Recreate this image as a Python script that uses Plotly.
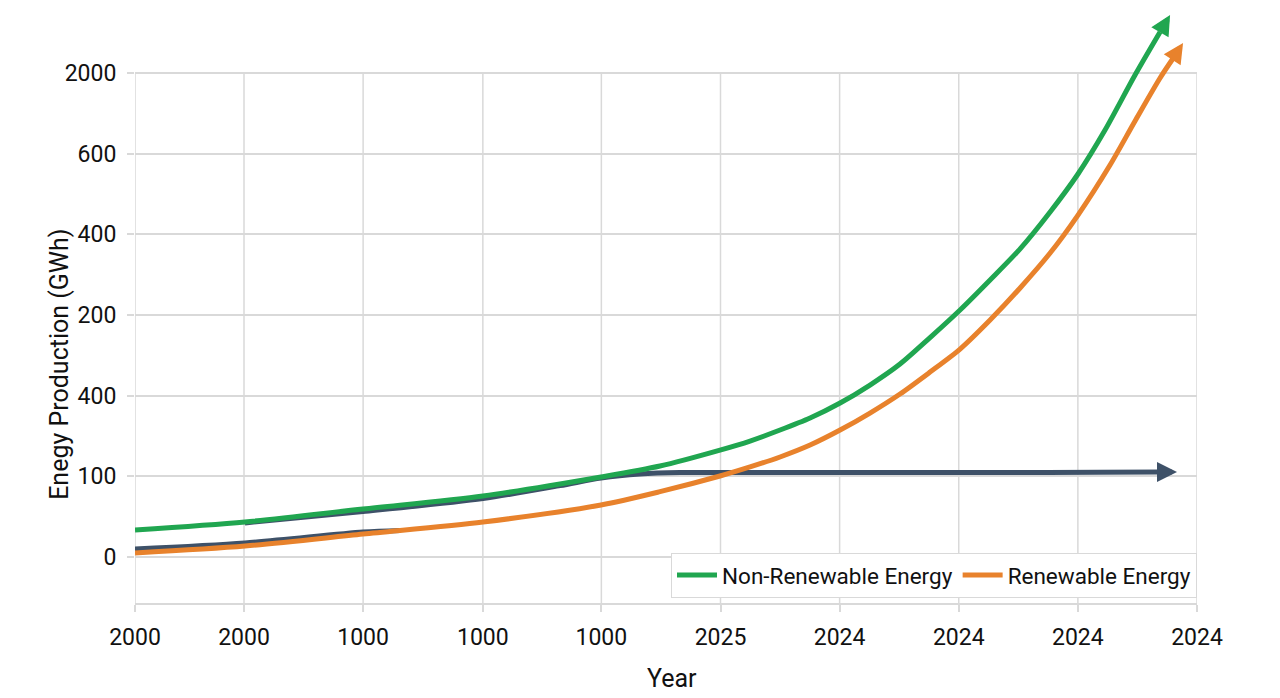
import plotly.graph_objects as go

# ---- data ----
x_tick_pos = [0, 0.915, 1.915, 2.92, 3.915, 4.915, 5.915, 6.915, 7.915, 8.915]
x_tick_text = ["2000", "2000", "1000", "1000", "1000", "2025", "2024", "2024", "2024", "2024"]
y_tick_pos = [0, 100, 200, 300, 400, 500, 600]
y_tick_text = ["0", "100", "400", "200", "400", "600", "2000"]

# last point of each series is the arrow tip
nonren_x = [0, 0.923, 1.914, 2.921, 3.912, 4.407, 4.911, 5.163, 5.415, 5.667, 5.919, 6.170,
            6.422, 6.674, 6.926, 7.178, 7.430, 7.682, 7.916, 8.143, 8.395, 8.605, 8.689]
nonren_y = [33.5, 43.4, 59.5, 75.6, 99.2, 112.8, 132.6, 143.8, 157.4, 172.3, 190.9, 213.2,
            239.2, 272.0, 306.2, 343.4, 382.0, 427.7, 474.8, 529.3, 597.5, 650.8, 671.9]

ren_x = [0, 0.923, 1.914, 2.921, 3.912, 4.407, 4.911, 5.163, 5.415, 5.667, 5.919, 6.170,
         6.422, 6.674, 6.926, 7.178, 7.430, 7.682, 7.916, 8.185, 8.395, 8.605, 8.722, 8.798]
ren_y = [5.0, 13.6, 28.5, 43.4, 64.5, 81.0, 100.4, 111.6, 124.0, 138.8, 157.4, 178.5,
         202.1, 229.3, 257.8, 293.8, 333.5, 376.8, 423.9, 485.9, 540.5, 593.8, 619.8, 637.2]

other_x = [0, 0.923, 1.914, 2.225, None, 0.923, 1.914, 2.921, 3.568, 3.912, 4.239, 4.575,
           5.583, 6.422, 7.262, 8.101, 8.630, 8.747]
other_y = [9.9, 17.4, 31.0, 33.0, None, 42.3, 56.3, 72.5, 88.5, 97.9, 102.9, 104.7,
           104.7, 104.7, 104.7, 105.2, 105.4, 105.4]

GREEN = "#20a650"
ORANGE = "#e8822c"
DARK = "#3e5168"
GRID = "#d9d9d9"
FONT = "Roboto"

fig = go.Figure()
arrows = []


def add_series(xs, ys, color, name, show):
    fig.add_trace(go.Scatter(
        x=xs[:-1], y=ys[:-1], mode="lines", name=name, showlegend=show,
        line=dict(color=color, width=5, shape="spline", smoothing=0.8),
        hoverinfo="skip"))
    arrows.append(dict(
        x=xs[-1], y=ys[-1], ax=xs[-2], ay=ys[-2], xref="x", yref="y", axref="x", ayref="y",
        text="", showarrow=True, arrowhead=2, arrowsize=0.8, arrowwidth=5, arrowcolor=color,
        standoff=0))


add_series(other_x, other_y, DARK, "Other", False)
add_series(ren_x, ren_y, ORANGE, "Renewable Energy", True)
add_series(nonren_x, nonren_y, GREEN, "Non-Renewable Energy", True)

# vertical grid lines stop at the top gridline
for xv in x_tick_pos:
    fig.add_shape(type="line", xref="x", yref="y", x0=xv, x1=xv, y0=-57, y1=y_tick_pos[-1],
                  line=dict(color=GRID, width=1.5), layer="below")

fig.update_layout(
    width=1280, height=698, autosize=False,
    margin=dict(l=135, r=83, t=12, b=95),
    paper_bgcolor="white", plot_bgcolor="white",
    font=dict(family=FONT, color="#111111"),
    legend=dict(orientation="h", x=1, xanchor="right", y=0.0085, yanchor="bottom",
                bgcolor="white", bordercolor=GRID, borderwidth=1, itemwidth=40,
                font=dict(size=22.5, family=FONT), traceorder="reversed"),
    xaxis=dict(range=[0, 8.915], tickvals=x_tick_pos, ticktext=x_tick_text,
               showgrid=False, zeroline=False, showline=True, linecolor=GRID, linewidth=1.5,
               ticks="outside", ticklen=7, tickcolor=GRID, tickwidth=1.5,
               tickfont=dict(size=23, family=FONT), ticklabelstandoff=6),
    yaxis=dict(range=[-57, 675.6], tickvals=y_tick_pos, ticktext=y_tick_text,
               showgrid=True, gridcolor=GRID, gridwidth=1.5, zeroline=False, showline=False,
               ticks="outside", ticklen=7, tickcolor=GRID, tickwidth=1.5,
               tickfont=dict(size=23, family=FONT), ticklabelstandoff=6),
    annotations=arrows + [
        dict(text="Year", xref="paper", yref="paper", x=0.5056, y=-0.127,
             xanchor="center", yanchor="middle", showarrow=False,
             font=dict(size=25, family=FONT, color="#111111")),
        dict(text="Enegy Production (GWh)", xref="paper", yref="paper", x=-0.0706, y=0.403,
             xanchor="center", yanchor="middle", textangle=-90, showarrow=False,
             font=dict(size=25, family=FONT, color="#111111")),
    ],
)

fig.write_html("out.html")
